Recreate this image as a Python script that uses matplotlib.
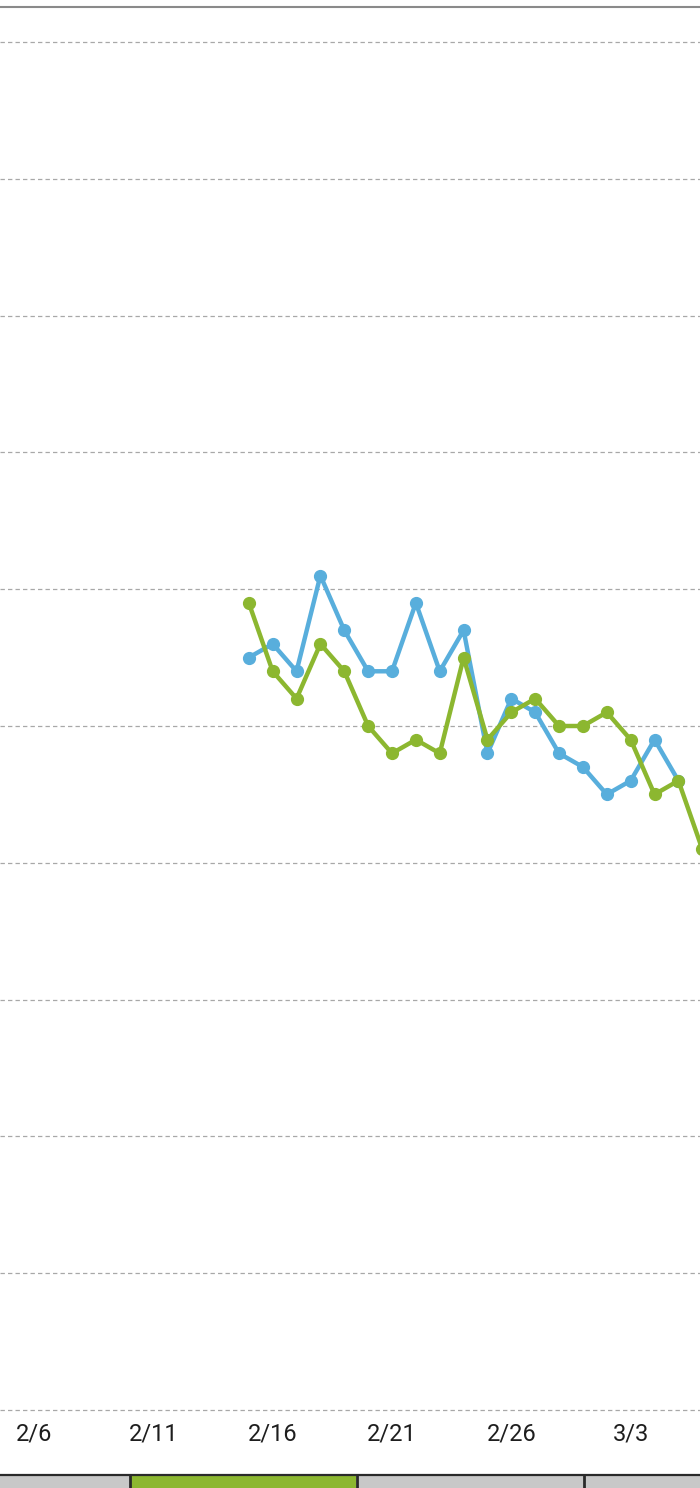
"""Two daily series over Feb/Mar, drawn edge to edge like a phone chart screen."""

import matplotlib.pyplot as plt
from matplotlib.patches import Rectangle

# day offset from 2/6 (Feb has 28 days here)
tick_days = [0, 5, 10, 15, 20, 25]
tick_labels = ["2/6", "2/11", "2/16", "2/21", "2/26", "3/3"]

blue_days = [9, 10, 11, 12, 13, 14, 15, 16, 17, 18, 19, 20, 21, 22, 23, 24, 25, 26, 27]
blue_vals = [55, 56, 54, 61, 57, 54, 54, 59, 54, 57, 48, 52, 51, 48, 47, 45, 46, 49, 46]

green_days = [9, 10, 11, 12, 13, 14, 15, 16, 17, 18, 19, 20, 21, 22, 23, 24, 25, 26, 27, 28]
green_vals = [59, 54, 52, 56, 54, 50, 48, 49, 48, 55, 49, 51, 52, 50, 50, 51, 49, 45, 46, 41]

BLUE = "#58aedc"
GREEN = "#8cb730"

W, H = 700, 1488
fig = plt.figure(figsize=(W / 100, H / 100), dpi=100)
plt.rcParams["font.family"] = ["Roboto", "DejaVu Sans"]

top_px, bottom_px = 7, 1412
ax = fig.add_axes([0, (H - bottom_px) / H, 1, (bottom_px - top_px) / H])

px_per_unit = (1410 - 42) / 100
ax.set_ylim(-(bottom_px - 1410) / px_per_unit, (1410 - top_px) / px_per_unit)
px_per_day = (632 - 274) / 15
ax.set_xlim(-34 / px_per_day, (W - 34) / px_per_day)

for v in range(0, 101, 10):
    ax.axhline(v, color="#a8a8a8", lw=0.9, ls=(0, (3.5, 2.5)), zorder=1)

ax.plot(blue_days, blue_vals, color=BLUE, lw=3.2, marker="o", ms=8.5,
        clip_on=False, zorder=3)
ax.plot(green_days, green_vals, color=GREEN, lw=3.2, marker="o", ms=8.5,
        zorder=4)

ax.set_xticks(tick_days)
ax.set_xticklabels(tick_labels, fontsize=17, color="#1e1e1e")
ax.tick_params(axis="x", length=0, pad=7.5)
ax.set_yticks([])
for side in ["left", "right", "bottom"]:
    ax.spines[side].set_visible(False)
ax.spines["top"].set_color("#8a8a8a")
ax.spines["top"].set_linewidth(1.5)

# tab bar at the very bottom
bar_y, bar_h = 0, (H - 1475) / H
fig.patches.append(Rectangle((0, bar_y), 1, bar_h, transform=fig.transFigure,
                             facecolor="#c8c8c8", edgecolor="none"))
fig.patches.append(Rectangle((131 / W, bar_y), (356 - 131) / W, bar_h,
                             transform=fig.transFigure, facecolor=GREEN,
                             edgecolor="none"))
fig.lines.append(plt.Line2D([0, 1], [bar_h, bar_h], transform=fig.transFigure,
                            color="#2a2a2a", lw=1.6))
for x in [130, 357, 584]:
    fig.lines.append(plt.Line2D([x / W, x / W], [0, bar_h],
                                transform=fig.transFigure, color="#2a2a2a", lw=2))

fig.savefig("out.png", dpi=100)
